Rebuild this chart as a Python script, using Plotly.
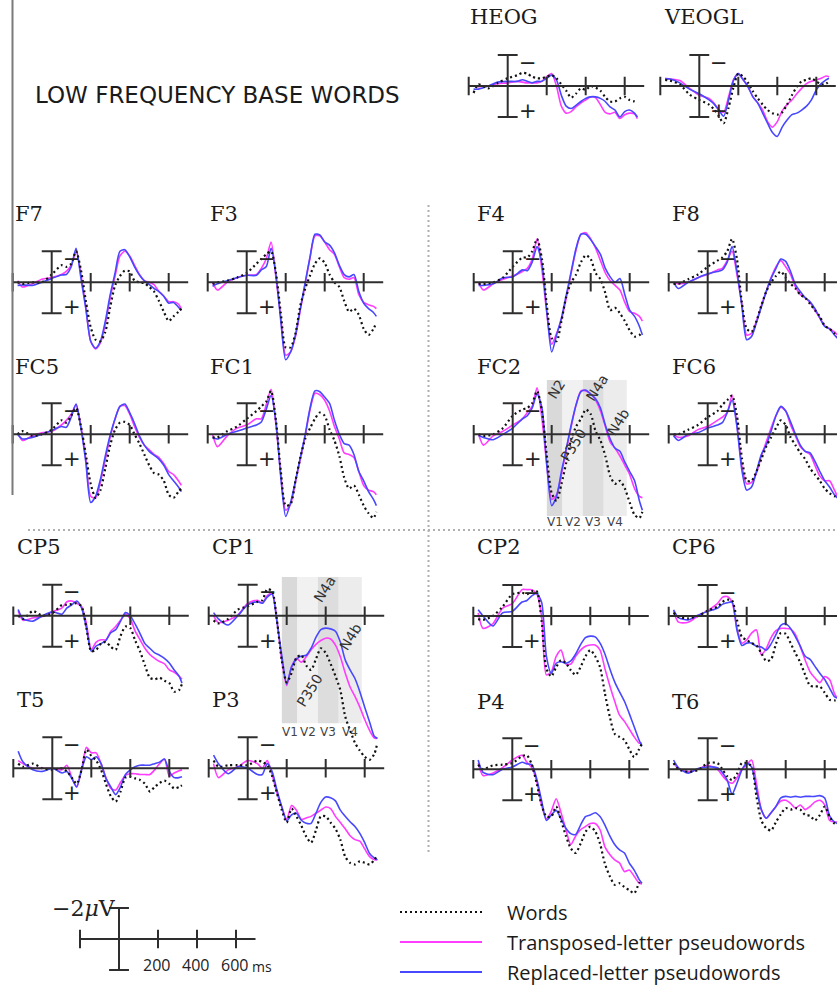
import plotly.graph_objects as go

W, H = 837, 987
PX_MS = 0.195   # pixels per millisecond
PX_UV = 15.5    # pixels per microvolt

TIMES = [-175, -150, -100, -50, 0, 50, 75, 100, 125, 150, 175, 200, 225, 250, 275, 300,
         325, 350, 375, 400, 425, 450, 475, 500, 525, 550, 575, 600, 625, 650, 665]

# ---------------- data (microvolts, negative = up) ----------------
HEOG_W = [0.45, -0.1, 0.15, -0.2, -0.5, -0.7, -0.85, -0.8, -0.6, -0.5, -0.5, -0.6, -0.7, -0.5, -0.1, 0.3, 0.75, 0.5, 0.15, 0.25, 0.0, 0.1, 0.3, 0.7, 1.0, 1.0, 0.8, 0.7, 0.9, 1.0, 1.1]
HEOG_TL = [0.0, 0.05, 0.0, -0.15, -0.2, -0.3, -0.25, -0.2, -0.2, -0.2, -0.3, -0.6, -0.8, 0.0, 1.3, 1.75, 1.65, 1.35, 1.1, 0.9, 0.7, 0.75, 1.2, 1.7, 1.8, 1.7, 2.1, 1.85, 1.75, 1.8, 2.1]
HEOG_RL = [0.2, 0.2, 0.0, -0.25, -0.3, -0.3, -0.4, -0.3, -0.2, -0.3, -0.3, -0.5, -0.7, -0.4, 0.6, 1.3, 1.45, 1.25, 1.0, 0.8, 0.7, 0.7, 0.8, 1.0, 1.35, 1.55, 2.0, 1.65, 1.55, 1.75, 2.0]

VEOGL_W = [-0.4, -0.35, -0.1, 0.55, 0.9, 1.2, 1.5, 1.95, 2.4, 1.4, 0.1, -0.8, -0.6, -0.2, 0.35, 0.8, 1.2, 1.55, 1.75, 1.85, 1.7, 1.2, 0.6, 0.05, -0.3, -0.4, -0.5, -0.3, -0.1, -0.15, -0.3]
VEOGL_TL = [-0.5, -0.45, -0.35, 0.15, 0.6, 0.8, 1.1, 1.55, 1.7, 0.7, -0.4, -0.8, -0.4, 0.05, 0.7, 1.1, 1.55, 2.3, 2.65, 2.3, 1.6, 1.2, 0.9, 0.5, 0.15, -0.15, -0.3, -0.4, -0.5, -0.65, -0.6]
VEOGL_RL = [-0.45, -0.45, -0.2, 0.2, 0.5, 0.9, 1.15, 1.55, 1.95, 0.9, -0.35, -0.8, -0.4, 0.05, 0.7, 1.1, 1.75, 2.4, 3.0, 3.25, 2.65, 2.2, 1.85, 1.75, 1.55, 1.3, 0.9, 0.25, -0.15, -0.4, -0.5]

F7_W = [0.0, 0.1, 0.0, 0.0, -0.5, -1.1, -1.0, -1.2, -2.0, -0.8, 1.2, 2.9, 3.7, 3.8, 3.2, 1.6, 0.2, -0.4, -0.75, -0.7, -0.1, 0.0, 0.05, 0.3, 0.6, 1.2, 1.9, 2.5, 2.2, 1.9, 1.7]
F7_TL = [-0.1, 0.3, 0.1, -0.2, -0.3, -0.5, -0.7, -1.1, -2.0, -0.5, 1.6, 3.8, 4.3, 3.9, 2.7, 1.0, -0.4, -1.7, -2.0, -1.7, -1.1, -0.5, -0.1, 0.0, 0.15, 0.6, 0.9, 1.25, 1.25, 1.4, 1.7]
F7_RL = [0.2, 0.17, 0.2, 0.0, -0.25, -0.47, -0.5, -1.0, -2.2, -0.25, 1.7, 3.8, 4.25, 3.8, 2.5, 0.8, -0.6, -2.0, -2.1, -1.65, -1.0, -0.47, -0.1, 0.13, 0.4, 0.6, 0.9, 1.35, 1.3, 1.6, 1.8]

F3_W = [0.1, 0.0, -0.1, -0.3, -0.6, -1.2, -1.5, -1.8, -2.0, -0.6, 2.0, 4.2, 4.2, 3.3, 1.5, 0.4, -0.45, -1.2, -1.55, -1.25, -0.5, 0.0, 0.3, 1.2, 1.9, 1.7, 2.1, 3.0, 3.4, 3.0, 2.6]
F3_TL = [0.0, 0.5, 0.0, -0.3, -0.45, -0.5, -0.9, -1.5, -2.6, -0.3, 2.3, 4.7, 4.5, 3.5, 1.8, 0.1, -1.6, -3.0, -3.0, -2.6, -2.1, -1.8, -1.0, -0.3, -0.2, -0.3, 0.8, 1.3, 1.45, 1.55, 1.7]
F3_RL = [0.25, 0.1, -0.1, -0.3, -0.45, -0.45, -0.8, -1.0, -2.2, -0.5, 2.5, 5.0, 4.5, 3.4, 1.7, 0.0, -1.65, -3.1, -3.05, -2.6, -2.4, -1.9, -1.1, -0.5, -0.35, -0.5, 0.6, 1.35, 1.7, 1.95, 2.2]

F4_W = [0.1, 0.1, 0.0, -0.3, -1.0, -1.6, -1.6, -2.0, -2.8, -1.5, 1.5, 3.6, 3.8, 2.5, 0.9, 0.0, -0.5, -1.3, -1.75, -1.5, -0.6, -0.2, 0.7, 1.8, 1.65, 2.0, 2.5, 3.1, 3.5, 3.4, 3.2]
F4_TL = [0.0, 0.5, 0.1, -0.2, -0.4, -0.7, -0.9, -1.5, -2.8, -0.8, 2.0, 4.0, 3.3, 2.4, 1.0, -0.6, -2.1, -3.1, -3.2, -2.8, -2.2, -1.4, -0.6, -0.1, 0.2, 0.5, 1.3, 1.9, 2.0, 2.2, 2.5]
F4_RL = [0.2, 0.2, 0.1, -0.3, -0.35, -0.8, -0.75, -1.3, -2.3, -1.2, 1.9, 4.5, 3.4, 2.3, 0.8, -0.7, -2.2, -3.1, -3.1, -2.75, -2.3, -1.8, -0.9, -0.35, 0.0, -0.25, 0.8, 1.8, 2.2, 2.85, 3.4]

F8_W = [0.1, 0.1, -0.2, -0.5, -1.0, -1.4, -1.6, -2.0, -2.8, -1.5, 1.3, 3.0, 3.2, 2.5, 1.5, 0.6, 0.0, -0.4, -0.7, -0.3, 0.1, 0.4, 0.8, 1.0, 1.4, 1.8, 2.2, 2.8, 3.0, 3.3, 3.5]
F8_TL = [0.0, 0.1, 0.0, -0.3, -0.5, -0.8, -0.9, -1.4, -2.0, -0.5, 1.4, 3.4, 3.3, 2.5, 1.5, 0.6, -0.3, -1.0, -1.4, -1.0, -0.5, 0.3, 0.8, 1.0, 1.3, 1.8, 2.3, 2.8, 3.0, 3.2, 3.4]
F8_RL = [0.0, 0.4, 0.0, -0.3, -0.55, -0.7, -0.8, -1.3, -2.3, -0.7, 1.5, 3.7, 3.5, 2.6, 1.6, 0.6, -0.25, -0.9, -1.5, -1.35, -0.7, 0.15, 0.6, 1.0, 1.25, 1.7, 2.3, 2.85, 3.0, 3.4, 3.6]

FC5_W = [0.0, -0.2, 0.1, 0.0, -0.3, -0.9, -0.75, -1.2, -1.7, -0.5, 1.3, 3.2, 4.1, 3.6, 2.2, 0.7, -0.3, -0.75, -0.8, -0.6, 0.0, 0.6, 1.3, 2.0, 2.5, 2.6, 3.0, 3.9, 4.1, 3.7, 3.5]
FC5_TL = [-0.1, 0.4, 0.1, -0.1, -0.2, -0.6, -0.9, -1.3, -1.9, -0.5, 1.6, 4.0, 4.1, 3.1, 1.6, 0.2, -1.0, -1.8, -1.85, -1.3, -0.5, 0.2, 0.7, 1.0, 1.3, 1.5, 1.9, 2.4, 2.6, 3.0, 3.3]
FC5_RL = [0.0, 0.3, 0.2, 0.0, -0.25, -0.5, -0.45, -1.1, -1.95, -0.4, 1.8, 4.4, 4.0, 2.9, 1.4, 0.05, -1.0, -1.8, -1.95, -1.4, -0.7, 0.1, 0.7, 1.1, 1.35, 1.6, 2.0, 2.6, 3.0, 3.4, 3.7]

FC1_W = [0.2, 0.2, -0.2, -0.5, -1.0, -1.5, -1.8, -2.1, -2.8, -0.9, 2.4, 4.6, 4.5, 3.0, 1.5, 0.3, -0.4, -1.0, -1.4, -1.2, -0.3, 0.4, 1.4, 2.8, 3.5, 3.3, 3.9, 4.6, 5.1, 5.4, 5.0]
FC1_TL = [0.0, 0.8, 0.1, -0.4, -0.6, -1.0, -1.0, -1.9, -2.9, -0.6, 2.6, 4.9, 4.5, 3.1, 1.6, 0.1, -1.6, -2.65, -2.55, -2.2, -1.5, -0.5, 0.3, 1.2, 1.3, 1.5, 2.4, 3.3, 3.6, 3.7, 3.9]
FC1_RL = [0.2, 0.3, 0.0, -0.2, -0.4, -0.6, -0.8, -1.6, -2.5, -0.8, 2.8, 5.3, 4.4, 3.0, 1.5, 0.0, -1.7, -2.8, -2.75, -2.4, -2.0, -0.9, 0.0, 0.6, 0.7, 1.3, 2.4, 3.0, 3.7, 4.2, 4.6]

FC2_W = [0.0, 0.1, 0.0, -0.4, -1.2, -1.6, -1.7, -2.0, -2.8, -1.5, 1.4, 3.8, 4.3, 3.2, 1.8, 0.3, -0.5, -1.0, -1.6, -1.3, -0.2, 0.4, 1.4, 2.7, 3.2, 3.0, 3.5, 4.4, 5.2, 5.4, 5.0]
FC2_TL = [0.0, 0.7, 0.1, -0.2, -0.6, -1.0, -1.4, -1.8, -3.0, -1.0, 2.0, 4.2, 3.9, 2.6, 1.0, -0.5, -1.9, -2.8, -2.8, -2.6, -2.2, -1.5, -0.5, 0.5, 0.9, 1.4, 2.0, 2.6, 3.5, 4.0, 4.1]
FC2_RL = [0.1, 0.2, 0.35, 0.0, -0.4, -1.0, -1.2, -1.7, -2.6, -1.7, 2.0, 4.6, 4.0, 2.4, 0.9, -0.6, -1.9, -2.75, -2.85, -2.6, -2.3, -1.7, -0.6, 0.3, 0.9, 1.1, 1.8, 2.4, 3.0, 4.3, 4.9]

FC6_W = [0.0, 0.0, -0.3, -0.6, -1.1, -1.5, -1.9, -2.2, -2.5, -1.2, 1.5, 3.0, 3.0, 2.4, 1.6, 0.8, 0.2, -0.4, -0.9, -0.6, 0.2, 0.7, 1.2, 1.6, 2.2, 2.6, 3.0, 3.5, 3.8, 4.0, 4.0]
FC6_TL = [0.0, 0.2, 0.1, -0.3, -0.5, -0.9, -1.1, -1.4, -2.5, -0.6, 2.0, 3.2, 3.1, 2.5, 1.4, 0.5, -0.4, -1.2, -1.75, -1.5, -0.6, 0.1, 0.8, 1.1, 1.3, 2.0, 2.7, 3.0, 3.0, 3.6, 4.0]
FC6_RL = [0.1, 0.4, 0.0, -0.1, -0.4, -0.6, -0.75, -1.4, -2.2, -0.5, 2.3, 3.6, 3.4, 2.4, 1.3, 0.7, -0.2, -1.2, -1.8, -1.5, -0.8, 0.0, 0.7, 1.1, 1.2, 1.75, 2.4, 3.0, 3.4, 3.9, 4.1]

CP5_W = [0.0, 0.2, -0.3, 0.0, -0.15, -0.7, -0.7, -0.75, -0.8, -0.6, 0.8, 2.3, 2.2, 1.8, 1.7, 2.0, 2.2, 1.3, 0.7, 0.8, 1.6, 2.3, 3.2, 4.0, 4.1, 4.0, 4.2, 4.35, 4.9, 4.8, 4.4]
CP5_TL = [-0.3, 0.3, 0.15, 0.05, -0.25, -0.5, -0.9, -0.95, -0.8, -0.6, 0.5, 2.2, 1.7, 1.55, 1.55, 1.0, 0.7, 0.3, -0.1, 0.2, 1.0, 1.55, 2.1, 2.5, 2.75, 2.95, 3.1, 3.5, 3.65, 3.9, 4.1]
CP5_RL = [-0.4, 0.2, 0.35, 0.0, -0.25, -0.1, -0.5, -0.7, -0.95, -0.5, 0.8, 2.3, 1.95, 1.8, 1.6, 1.1, 0.9, 0.35, -0.2, 0.0, 0.55, 1.15, 1.8, 2.1, 2.4, 2.55, 2.75, 3.05, 3.5, 3.9, 4.35]

CP1_W = [0.3, 0.5, 0.2, -0.4, -0.6, -0.9, -1.0, -1.7, -1.6, 0.3, 2.9, 4.3, 3.7, 2.7, 2.55, 3.2, 3.5, 2.8, 2.1, 2.4, 3.1, 3.9, 4.8, 6.5, 7.4, 8.2, 8.7, 9.1, 9.3, 8.9, 8.2]
CP1_TL = [0.0, 0.45, 0.3, -0.05, -0.8, -1.0, -0.8, -1.3, -1.45, 0.3, 2.9, 4.5, 3.3, 2.75, 3.0, 2.65, 2.2, 1.85, 1.6, 1.45, 1.5, 1.9, 2.65, 3.7, 4.6, 5.2, 5.9, 6.7, 7.4, 7.9, 7.9]
CP1_RL = [-0.2, 0.2, 0.6, 0.0, -0.7, -0.9, -0.8, -1.2, -1.4, 0.4, 2.6, 4.4, 3.3, 2.8, 2.6, 2.55, 2.1, 1.4, 0.9, 0.8, 0.85, 1.0, 1.7, 2.85, 3.5, 4.05, 4.9, 5.9, 6.85, 7.8, 7.9]

CP2_W = [0.2, 0.25, 0.0, -0.6, -1.4, -1.5, -1.4, -1.6, -1.6, 0.3, 3.4, 3.9, 3.3, 2.85, 3.05, 3.5, 3.8, 3.3, 2.6, 2.2, 2.6, 3.3, 5.0, 6.5, 7.6, 7.8, 8.0, 8.6, 9.1, 8.6, 8.2]
CP2_TL = [-0.2, 0.8, 0.5, -0.5, -0.8, -1.7, -1.7, -1.7, -1.45, 0.0, 3.8, 3.6, 2.6, 2.2, 3.1, 3.1, 2.6, 2.2, 1.95, 1.87, 1.87, 2.2, 3.4, 4.5, 5.5, 6.4, 6.8, 7.3, 7.8, 8.2, 8.2]
CP2_RL = [-0.4, 0.0, 0.65, -0.2, -0.3, -0.9, -1.0, -1.3, -1.45, -0.9, 2.6, 3.7, 3.05, 2.95, 3.05, 2.9, 2.45, 1.85, 1.4, 1.3, 1.35, 1.75, 2.45, 3.4, 4.25, 4.9, 5.5, 6.3, 7.15, 8.0, 8.4]

CP6_W = [-0.2, 0.05, 0.15, 0.0, -0.35, -0.6, -0.9, -1.05, -1.0, 0.25, 1.35, 1.55, 1.75, 1.9, 2.4, 2.9, 2.8, 1.8, 1.1, 1.15, 1.75, 2.4, 3.0, 3.8, 4.5, 4.55, 4.55, 4.95, 5.4, 5.45, 5.4]
CP6_TL = [-0.3, 0.4, 0.4, 0.0, -0.35, -0.8, -1.2, -1.25, -0.9, 0.8, 1.75, 1.55, 1.1, 0.9, 2.5, 2.1, 1.4, 0.95, 0.8, 0.8, 0.85, 1.2, 2.0, 2.85, 3.6, 4.0, 4.3, 3.9, 4.1, 5.0, 5.3]
CP6_RL = [-0.4, 0.1, 0.25, -0.05, -0.3, -0.5, -0.75, -0.85, -0.9, 0.9, 1.9, 1.75, 1.75, 1.95, 2.0, 2.2, 1.8, 1.2, 0.6, 0.5, 0.8, 1.35, 1.95, 2.6, 2.8, 3.25, 3.7, 4.1, 4.65, 5.2, 5.3]

T5_W = [-0.3, -0.1, -0.3, 0.0, 0.1, 0.0, 0.2, 0.6, 1.0, 0.1, -1.2, -0.8, -0.5, 0.1, 1.0, 1.8, 2.15, 1.5, 0.6, 0.55, 0.65, 0.75, 1.0, 1.5, 1.2, 0.95, 0.8, 1.0, 1.3, 1.2, 1.1]
T5_TL = [-0.5, -0.3, 0.0, 0.0, 0.0, 0.1, -0.2, 0.6, 1.2, 0.1, -1.35, -1.0, -1.0, -0.3, 0.6, 1.3, 1.4, 0.9, 0.45, 0.35, 0.35, 0.4, 0.4, 0.4, 0.1, -0.3, -0.6, 0.5, 0.3, 0.15, 0.1]
T5_RL = [-1.1, -0.4, 0.1, 0.2, 0.0, 0.3, 0.2, 0.65, 1.2, 0.1, -0.75, -0.55, -0.75, -0.3, 0.65, 1.2, 1.7, 1.2, 0.4, 0.1, -0.1, -0.2, -0.2, -0.2, -0.3, -0.4, -0.6, 0.2, 0.6, 0.6, 0.55]

P3_W = [-0.5, -0.1, -0.2, -0.2, -0.2, -0.5, -0.4, -0.2, 0.5, 1.6, 2.7, 3.5, 2.6, 3.1, 3.7, 4.4, 4.8, 4.0, 3.1, 3.1, 3.5, 3.9, 4.6, 5.7, 6.1, 6.2, 6.0, 6.1, 6.2, 5.9, 5.6]
P3_TL = [-0.3, 0.6, 0.1, -0.1, -0.5, -0.3, 0.0, -0.5, 0.4, 1.6, 2.5, 3.3, 2.4, 2.7, 3.3, 3.2, 3.1, 2.9, 2.7, 2.5, 2.6, 3.1, 3.5, 3.9, 4.35, 4.6, 4.7, 5.2, 5.7, 5.9, 5.9]
P3_RL = [-0.85, -0.3, 0.35, -0.1, 0.0, 0.4, 0.4, -0.3, 0.2, 1.4, 2.5, 3.4, 3.0, 2.9, 3.35, 3.55, 3.55, 2.9, 2.2, 1.85, 1.9, 2.1, 2.7, 3.1, 3.45, 3.75, 4.2, 4.8, 5.5, 5.8, 5.9]

P4_W = [-0.3, 0.0, -0.25, -0.3, -0.4, -0.85, -0.9, -0.3, 0.9, 2.3, 3.05, 3.05, 2.4, 3.3, 4.3, 5.1, 5.4, 4.8, 4.05, 3.7, 4.0, 4.8, 6.1, 6.9, 7.45, 7.35, 7.6, 7.8, 8.0, 7.35, 7.1]
P4_TL = [-0.4, 0.4, 0.25, -0.1, -0.6, -0.9, -0.45, -0.1, 0.75, 2.3, 3.2, 2.7, 1.9, 2.8, 3.9, 4.85, 4.3, 3.9, 3.7, 3.5, 3.5, 3.9, 5.0, 5.5, 5.85, 6.05, 6.6, 6.5, 6.9, 7.35, 7.4]
P4_RL = [-0.6, 0.2, 0.35, 0.0, -0.15, -0.45, -0.35, -0.3, 0.6, 2.0, 3.3, 2.95, 2.65, 3.2, 3.8, 4.15, 4.2, 3.6, 3.05, 2.95, 2.8, 3.05, 3.6, 4.3, 4.85, 5.2, 5.4, 6.05, 6.5, 7.1, 7.35]

T6_W = [-0.4, 0.0, 0.15, 0.05, -0.4, -0.4, 0.0, 0.45, 0.7, 0.3, -0.4, -0.4, -0.2, 1.75, 3.3, 3.8, 3.95, 3.4, 2.9, 2.5, 2.6, 2.5, 2.6, 2.95, 3.0, 3.3, 2.95, 2.4, 3.05, 3.5, 3.6]
T6_TL = [-0.4, -0.05, 0.15, 0.0, -0.25, 0.0, 0.4, 0.75, 0.9, 0.55, 0.0, -0.3, -0.6, 0.9, 2.6, 3.15, 2.8, 2.4, 2.05, 2.0, 2.2, 2.5, 2.3, 2.6, 2.4, 2.1, 2.0, 2.3, 3.3, 3.4, 3.4]
T6_RL = [-0.6, -0.1, 0.25, -0.05, -0.15, -0.1, 0.2, 0.7, 1.6, 0.9, 0.05, -0.4, -0.15, 1.3, 2.6, 3.15, 2.8, 2.4, 1.85, 1.75, 1.8, 1.75, 1.8, 1.75, 1.75, 1.75, 1.7, 1.85, 3.0, 3.4, 3.5]

ELECTRODES = ["HEOG", "VEOGL", "F7", "F3", "F4", "F8", "FC5", "FC1", "FC2", "FC6",
              "CP5", "CP1", "CP2", "CP6", "T5", "P3", "P4", "T6"]
SERIES = {
    "HEOG": (HEOG_W, HEOG_TL, HEOG_RL), "VEOGL": (VEOGL_W, VEOGL_TL, VEOGL_RL),
    "F7": (F7_W, F7_TL, F7_RL), "F3": (F3_W, F3_TL, F3_RL),
    "F4": (F4_W, F4_TL, F4_RL), "F8": (F8_W, F8_TL, F8_RL),
    "FC5": (FC5_W, FC5_TL, FC5_RL), "FC1": (FC1_W, FC1_TL, FC1_RL),
    "FC2": (FC2_W, FC2_TL, FC2_RL), "FC6": (FC6_W, FC6_TL, FC6_RL),
    "CP5": (CP5_W, CP5_TL, CP5_RL), "CP1": (CP1_W, CP1_TL, CP1_RL),
    "CP2": (CP2_W, CP2_TL, CP2_RL), "CP6": (CP6_W, CP6_TL, CP6_RL),
    "T5": (T5_W, T5_TL, T5_RL), "P3": (P3_W, P3_TL, P3_RL),
    "P4": (P4_W, P4_TL, P4_RL), "T6": (T6_W, T6_TL, T6_RL),
}
SERIES_NAMES = ["Words", "Transposed-letter pseudowords", "Replaced-letter pseudowords"]

# analysis windows (ms) shown on FC2 and CP1
WINDOW_EDGES = [175, 255, 360, 467, 585]
WINDOW_LABELS = ["V1", "V2", "V3", "V4"]
AXIS_TICKS = [-200, 200, 400, 600]
SCALE_TICK_LABELS = ["200", "400", "600"]

# ---------------- layout geometry (pixel position of t=0 / 0 µV) ----------------
ORIGIN = {
    "HEOG": (507.7, 86), "VEOGL": (699.3, 86),
    "F7": (51.7, 282.3), "F3": (246.7, 282.3), "F4": (512.7, 282.3), "F8": (707.7, 282.3),
    "FC5": (51.7, 434.3), "FC1": (246.7, 434.3), "FC2": (512.7, 434.3), "FC6": (707.7, 434.3),
    "CP5": (52.3, 615.7), "CP1": (247.7, 615.7), "CP2": (512.3, 616), "CP6": (707.7, 616),
    "T5": (52.3, 768.3), "P3": (247.7, 768.3), "P4": (512.3, 769.3), "T6": (707.7, 769.3),
    "SCALE": (119, 939),
}
LABEL_POS = {
    "HEOG": (468, 17), "VEOGL": (662, 17),
    "F7": (13, 214), "F3": (208, 214), "F4": (475, 214), "F8": (670, 214),
    "FC5": (13, 367), "FC1": (208, 367), "FC2": (475, 367), "FC6": (670, 367),
    "CP5": (15, 547), "CP1": (210, 547), "CP2": (475, 547), "CP6": (670, 547),
    "T5": (15, 700), "P3": (210, 700), "P4": (475, 702), "T6": (670, 702),
}

COL_W = "#111111"
COL_TL = "#ff3cff"
COL_RL = "#4848ff"
AX_COL = "#2e2e2e"

fig = go.Figure()
layout = dict(width=W, height=H, margin=dict(l=0, r=0, t=0, b=0), autosize=False,
              paper_bgcolor="white", plot_bgcolor="rgba(0,0,0,0)", showlegend=False)
shapes = []
annotations = []


def px(x, y):
    return x / W, 1 - y / H


def make_axes(idx, key):
    x0, y0 = ORIGIN[key]
    left = max(0.0, x0 - 50)
    right = min(W, x0 + 150)
    top = max(0.0, y0 - 80)
    bottom = min(H, y0 + 165)
    xn = "xaxis" if idx == 1 else f"xaxis{idx}"
    yn = "yaxis" if idx == 1 else f"yaxis{idx}"
    xr = "x" if idx == 1 else f"x{idx}"
    yr = "y" if idx == 1 else f"y{idx}"
    layout[xn] = dict(domain=[left / W, right / W],
                      range=[(left - x0) / PX_MS, (right - x0) / PX_MS],
                      visible=False, anchor=yr, fixedrange=True)
    layout[yn] = dict(domain=[1 - bottom / H, 1 - top / H],
                      range=[(bottom - y0) / PX_UV, (top - y0) / PX_UV],
                      visible=False, anchor=xr, fixedrange=True)
    return xr, yr


def axis_frame(xr, yr, signs=True):
    def line(xa, ya, xb, yb):
        shapes.append(dict(type="line", xref=xr, yref=yr, x0=xa, y0=ya, x1=xb, y1=yb,
                           line=dict(color=AX_COL, width=2)))
    line(-200, 0, 700, 0)
    for t in AXIS_TICKS:
        line(t, -0.6, t, 0.6)
    line(0, -2, 0, 2)
    line(-51, -2, 51, -2)
    line(-51, 2, 51, 2)
    if signs:
        annotations.append(dict(xref=xr, yref=yr, x=102, y=-1.5, text="\u2212", showarrow=False,
                                 font=dict(family="DejaVu Sans", size=21, color="#222"),
                                 xanchor="center", yanchor="middle"))
        annotations.append(dict(xref=xr, yref=yr, x=102, y=1.6, text="+", showarrow=False,
                                 font=dict(family="DejaVu Sans", size=21, color="#222"),
                                 xanchor="center", yanchor="middle"))


def windows(xr, yr, vtop, vbot, label_v):
    fills = ["#d9d9d9", "#f1f1f1", "#dddddd", "#ececec"]
    for i in range(4):
        shapes.append(dict(type="rect", xref=xr, yref=yr, x0=WINDOW_EDGES[i], x1=WINDOW_EDGES[i + 1],
                           y0=vtop, y1=vbot, fillcolor=fills[i], line=dict(width=0), layer="below"))
        annotations.append(dict(xref=xr, yref=yr, x=(WINDOW_EDGES[i] + WINDOW_EDGES[i + 1]) / 2,
                                y=label_v, text=WINDOW_LABELS[i], showarrow=False,
                                font=dict(family="DejaVu Sans", size=12, color="#444"),
                                xanchor="center", yanchor="middle"))


def comp_label(xr, yr, t, v, text):
    annotations.append(dict(xref=xr, yref=yr, x=t, y=v, text=text, showarrow=False, textangle=-58,
                            font=dict(family="DejaVu Sans", size=14, color="#333"),
                            xanchor="center", yanchor="middle"))


for i, key in enumerate(ELECTRODES, start=1):
    xr, yr = make_axes(i, key)
    w, tl, rl = SERIES[key]
    if key == "FC2":
        windows(xr, yr, -3.5, 5.27, 5.65)
        comp_label(xr, yr, 226, -2.9, "N2")
        comp_label(xr, yr, 431, -3.0, "N4a")
        comp_label(xr, yr, 541, -0.8, "N4b")
        comp_label(xr, yr, 311, 0.7, "P350")
    if key == "CP1":
        windows(xr, yr, -2.5, 6.94, 7.5)
        comp_label(xr, yr, 396, -1.7, "N4a")
        comp_label(xr, yr, 525, 1.35, "N4b")
        comp_label(xr, yr, 319, 4.8, "P350")
    axis_frame(xr, yr)
    for vals, col, dash, wd, nm in ((tl, COL_TL, "solid", 1.6, SERIES_NAMES[1]),
                                    (rl, COL_RL, "solid", 1.6, SERIES_NAMES[2]),
                                    (w, COL_W, "2px,3px", 2.2, SERIES_NAMES[0])):
        fig.add_trace(go.Scatter(x=TIMES, y=vals, mode="lines", name=nm, xaxis=xr, yaxis=yr,
                                 line=dict(color=col, width=wd, dash=dash, shape="spline", smoothing=0.7),
                                 hoverinfo="skip"))
    lx, ly = LABEL_POS[key]
    annotations.append(dict(xref="paper", yref="paper", x=lx / W, y=1 - ly / H, text=key, showarrow=False,
                            font=dict(family="DejaVu Serif", size=21, color="#1a1a1a"),
                            xanchor="left", yanchor="middle"))

# scale bar panel
sidx = len(ELECTRODES) + 1
sxr, syr = make_axes(sidx, "SCALE")
axis_frame(sxr, syr, signs=False)
for t, lab in zip(AXIS_TICKS[1:], SCALE_TICK_LABELS):
    annotations.append(dict(xref=sxr, yref=syr, x=t - 7, y=1.68, text=lab, showarrow=False,
                            font=dict(family="Open Sans", size=16, color="#222"),
                            xanchor="center", yanchor="middle"))
annotations.append(dict(xref=sxr, yref=syr, x=733, y=1.75, text="ms", showarrow=False,
                        font=dict(family="Open Sans", size=14, color="#222"),
                        xanchor="center", yanchor="middle"))
annotations.append(dict(xref=sxr, yref=syr, x=-4, y=-1.95, text="\u22122<i>\u03bc</i>V", showarrow=False,
                        font=dict(family="DejaVu Serif", size=22, color="#222"),
                        xanchor="right", yanchor="middle"))

# title
tx, ty = px(33, 95)
annotations.append(dict(xref="paper", yref="paper", x=tx, y=ty, text="LOW FREQUENCY BASE WORDS",
                        showarrow=False, font=dict(family="DejaVu Sans", size=23, color="#1a1a1a"),
                        xanchor="left", yanchor="middle"))

# separators
def pline(xa, ya, xb, yb, color, width, dash="solid"):
    a = px(xa, ya)
    b = px(xb, yb)
    shapes.append(dict(type="line", xref="paper", yref="paper", x0=a[0], y0=a[1], x1=b[0], y1=b[1],
                       line=dict(color=color, width=width, dash=dash)))

pline(12.5, 0, 12.5, 495, "#7a7a7a", 2)
pline(428.5, 205, 428.5, 852, "#b0b0b0", 2, "2px,3px")
pline(28, 530, 837, 530, "#b0b0b0", 2, "2px,3px")

# legend
LEG_Y = [912, 942, 972]
leg_styles = [(COL_W, "2px,3px", 2), (COL_TL, "solid", 1.8), (COL_RL, "solid", 1.8)]
for yy, nm, (c, d, wd) in zip(LEG_Y, SERIES_NAMES, leg_styles):
    pline(400, yy, 482, yy, c, wd, d)
    lx, ly = px(505, yy)
    annotations.append(dict(xref="paper", yref="paper", x=lx, y=ly, text=nm, showarrow=False,
                            font=dict(family="Open Sans", size=20, color="#1a1a1a"),
                            xanchor="left", yanchor="middle"))

layout["shapes"] = shapes
layout["annotations"] = annotations
fig.update_layout(**layout)
fig.write_html("out.html")
